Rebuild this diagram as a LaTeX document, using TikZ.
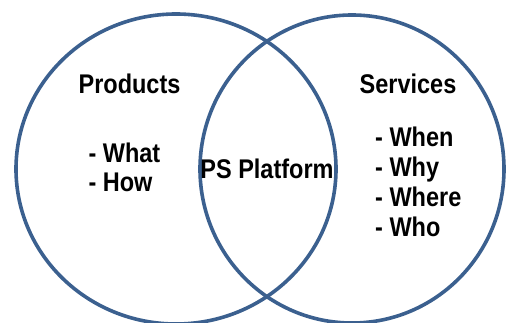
\documentclass[tikz,border=0pt]{standalone}
\usepackage{fontspec}
\setmainfont[FakeStretch=0.87]{Liberation Sans}
\definecolor{ringblue}{RGB}{59,96,143}
\begin{document}
\begin{tikzpicture}[x=1pt,y=1pt,
  ring/.style={draw=ringblue,line width=3.6pt},
  lbl/.style={inner sep=0pt,font=\fontsize{27}{29.7}\selectfont\bfseries},
  lst/.style={lbl,align=left,anchor=base west}]
\useasboundingbox (0,0) rectangle (506,322);
\draw[ring] (176,153) ellipse [x radius=160, y radius=155];
\draw[ring] (352,153) ellipse [x radius=152, y radius=154];
\node[lbl,anchor=base] (prod) at (129.5,229) {Products};
\node[lbl,anchor=base] (serv) at (408,229) {Services};
\node[lbl,anchor=base] (ps) at (267,144) {PS Platform};
\node[lst] (prodlist) at (88.3,130.3) {- What\\- How};
\node[lst] (servlist) at (375,86) {- When\\- Why\\- Where\\- Who};
\end{tikzpicture}
\end{document}
